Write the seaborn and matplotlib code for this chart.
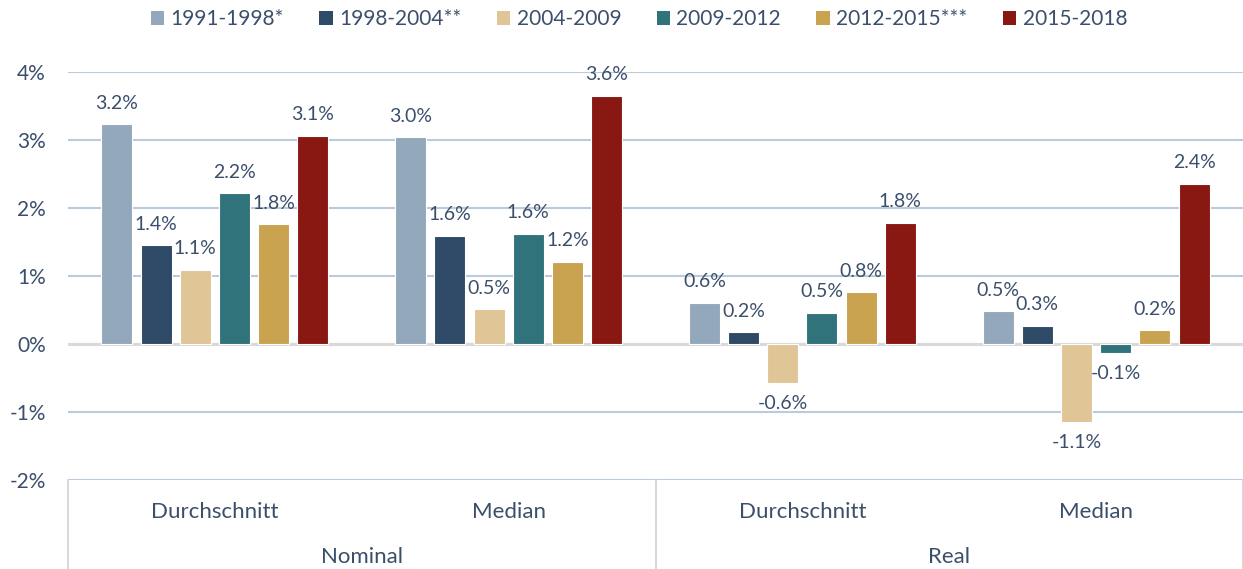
import pandas as pd
import matplotlib.pyplot as plt
import matplotlib.transforms as mtransforms
from matplotlib.patches import Patch
import seaborn as sns

# Data (percent)
periods = ['1991-1998*', '1998-2004**', '2004-2009', '2009-2012', '2012-2015***', '2015-2018']
groups = ['Nominal', 'Nominal', 'Real', 'Real']
measures = ['Durchschnitt', 'Median', 'Durchschnitt', 'Median']
nominal_avg = [3.23, 1.45, 1.09, 2.22, 1.76, 3.06]
nominal_med = [3.04, 1.59, 0.51, 1.62, 1.21, 3.65]
real_avg = [0.61, 0.17, -0.57, 0.46, 0.76, 1.78]
real_med = [0.48, 0.27, -1.14, -0.13, 0.20, 2.36]
colors = ['#94A8BC', '#2E4A66', '#E0C597', '#30737A', '#C9A34F', '#891812']

text_color = '#3B4F6B'

rows = []
for g, m, vals in zip(groups, measures, [nominal_avg, nominal_med, real_avg, real_med]):
    for p, v in zip(periods, vals):
        rows.append({'cat': g + ' ' + m, 'period': p, 'value': v})
df = pd.DataFrame(rows)

sns.set_style('white')
plt.rcParams['font.family'] = ['Lato', 'DejaVu Sans']

fig = plt.figure(figsize=(12.43, 5.69), dpi=100)
ax = fig.add_axes([68 / 1243, 89 / 569, 1175 / 1243, 408 / 569])

sns.barplot(data=df, x='cat', y='value', hue='period', palette=colors,
            saturation=1, width=0.8, gap=0.21, edgecolor='white', linewidth=0.8,
            legend=False, ax=ax, zorder=3)

# value labels
for cont in ax.containers:
    ax.bar_label(cont, fmt=lambda v: f'{v:.1f}%', padding=9,
                 fontsize=14, color=text_color)

ax.set_xlim(-0.5, 3.5)
ax.set_ylim(-2, 4)
ax.set_yticks(range(-2, 5))
ax.set_yticklabels([f'{v}%' for v in range(-2, 5)])
ax.set_xticks(range(4))
ax.set_xticklabels(measures)
ax.set_xlabel('')
ax.set_ylabel('')
ax.tick_params(axis='y', length=0, pad=16, labelsize=15, labelcolor=text_color)
ax.tick_params(axis='x', length=0, pad=16, labelsize=16, labelcolor=text_color)

for s in ax.spines.values():
    s.set_visible(False)
ax.set_axisbelow(True)
ax.yaxis.grid(True, color='#BACBDD', linewidth=1.5)
ax.axhline(0, color='#D9D9D9', linewidth=2.2, zorder=2)

# two-level category axis
trans = mtransforms.blended_transform_factory(ax.transData, ax.transAxes)
for x in [-0.5, 1.5, 3.5]:
    ax.plot([x, x], [0, -0.22], transform=trans, clip_on=False,
            color='#D9D9D9', linewidth=1.5)
for x, g in [(0.5, 'Nominal'), (2.5, 'Real')]:
    ax.text(x, -0.189, g, transform=trans, ha='center', va='center',
            fontsize=16, color=text_color)

handles = [Patch(facecolor=c, edgecolor='none') for c in colors]
fig.legend(handles, periods, loc='center', bbox_to_anchor=(0.514, 1 - 19 / 569),
           ncol=6, frameon=False, handlelength=0.65, handleheight=0.65,
           handletextpad=0.3, columnspacing=1.7, fontsize=15, labelcolor=text_color)

fig.savefig('out.png', dpi=100)
